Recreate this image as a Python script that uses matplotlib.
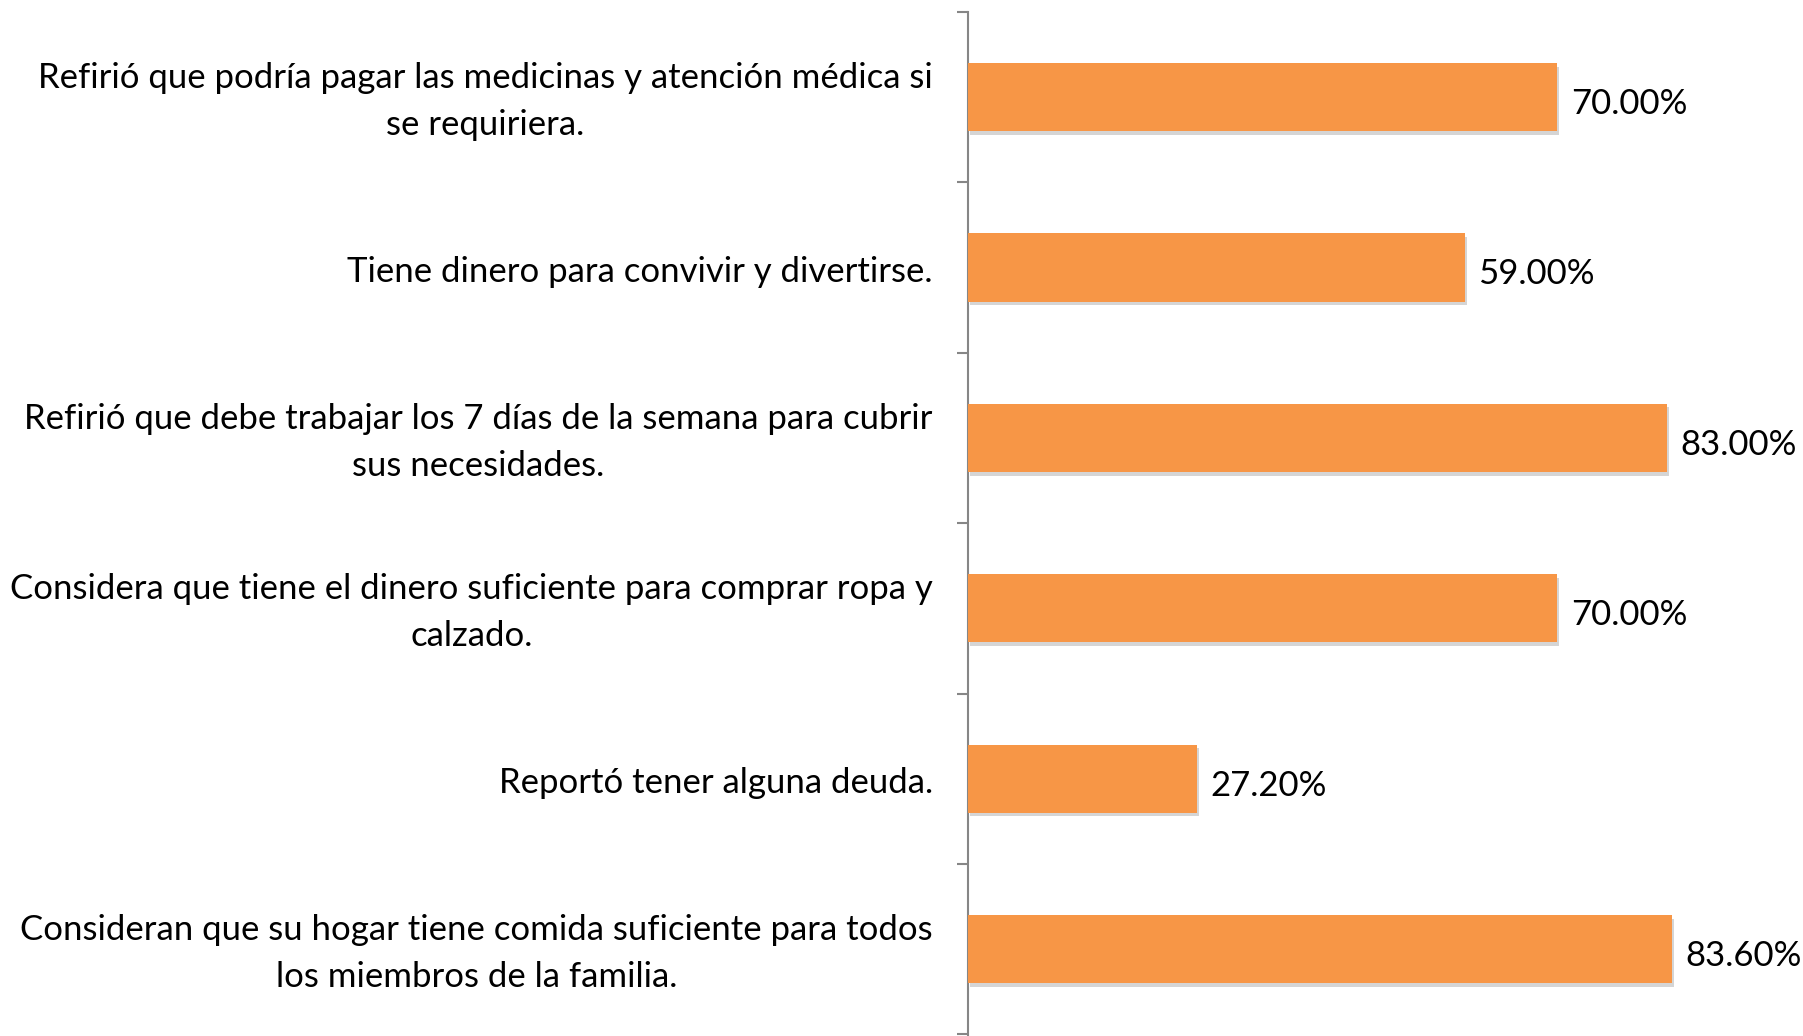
import numpy as np
import matplotlib
matplotlib.use("Agg")
import matplotlib.pyplot as plt
import matplotlib.patheffects as pe

plt.rcParams["font.family"] = ["Lato", "DejaVu Sans"]

# categories top to bottom, as in the original chart
labels = [
    "Refirió que podría pagar las medicinas y atención médica si\nse requiriera.",
    "Tiene dinero para convivir y divertirse.",
    "Refirió que debe trabajar los 7 días de la semana para cubrir\nsus necesidades.",
    "Considera que tiene el dinero suficiente para comprar ropa y\ncalzado.",
    "Reportó tener alguna deuda.",
    "Consideran que su hogar tiene comida suficiente para todos\nlos miembros de la familia.",
]
values = [70.0, 59.0, 83.0, 70.0, 27.2, 83.6]

BAR = "#f79646"
AXC = "#868686"
FS = 25

fig = plt.figure(figsize=(18.03, 10.36), dpi=100)
ax = fig.add_axes([968/1803, 0.0, 1 - 968/1803, 1 - 12/1036])

y = np.arange(len(values))
bars = ax.barh(y, values, height=0.40, color=BAR, zorder=3)
for b in bars:
    b.set_path_effects([pe.SimplePatchShadow(offset=(1.5, -2.5), shadow_rgbFace="#888888", alpha=0.35),
                        pe.Normal()])

for yi, v in zip(y, values):
    ax.text(v + 1.6, yi + 0.04, f"{v:.2f}%", va="center", ha="left", fontsize=FS, color="black")

ax.set_ylim(len(values) - 0.5 + 0.01, -0.5)
ax.set_xlim(0, 99.2)

# category labels, right aligned, lines centred
for yi, lab in zip(y, labels):
    ax.text(-4.2, yi + 0.025, lab, ha="right", va="center", multialignment="center",
            fontsize=FS, linespacing=1.58, clip_on=False)

ax.set_yticks(np.arange(len(values) + 1) - 0.5)
ax.set_yticklabels([])
ax.tick_params(axis="y", direction="out", length=8, width=1.5, color=AXC)
ax.set_xticks([])
for s in ["top", "right", "bottom"]:
    ax.spines[s].set_visible(False)
ax.spines["left"].set_color(AXC)
ax.spines["left"].set_linewidth(1.5)

fig.savefig("out.png", dpi=100)
